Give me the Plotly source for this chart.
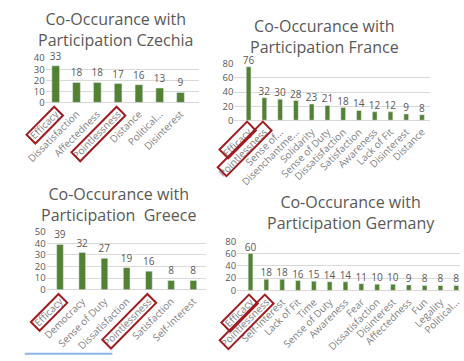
import math
import plotly.graph_objects as go

W, H = 464, 361

# ---- data ----
cz_cats = ["Efficacy", "Dissatisfaction", "Affectedness", "Pointlessness", "Distance", "Political...", "Disinterest"]
cz_vals = [33, 18, 18, 17, 16, 13, 9]

fr_cats = ["Efficacy", "Pointlessness", "Sense of...", "Disenchantme...", "Solidarity", "Sense of Duty",
           "Dissatisfaction", "Satisfaction", "Awareness", "Lack of Fit", "Disinterest", "Distance"]
fr_vals = [76, 32, 30, 28, 23, 21, 18, 14, 12, 12, 9, 8]

gr_cats = ["Efficacy", "Democracy", "Sense of Duty", "Dissatisfaction", "Pointlessness", "Satisfaction", "Self-Interest"]
gr_vals = [39, 32, 27, 19, 16, 8, 8]

de_cats = ["Efficacy", "Pointlessness", "Self-Interest", "Lack of Fit", "Time", "Sense of Duty", "Awareness",
           "Fear", "Dissatisfaction", "Disinterest", "Affectedness", "Fun", "Legality", "Political..."]
de_vals = [60, 18, 18, 16, 15, 14, 14, 11, 10, 10, 9, 8, 8, 8]

titles = ["Co-Occurance with<br>Participation Czechia",
          "Co-Occurance with<br>Participation France",
          "Co-Occurance with<br>Participation  Greece",
          "Co-Occurance with<br>Participation Germany"]
y_max = [40, 80, 50, 80]
y_dtick = [10, 20, 10, 20]
boxed = ["Efficacy", "Pointlessness"]

# ---- layout geometry (pixels) ----
geo = [
    dict(xl=27, xr=188, c0=37.5, cN=168.5, y0=99, yt=53, tx=100, ty=23.5, bw=0.37, by=9),
    dict(xl=225, xr=430, c0=240, cN=422, y0=117.5, yt=59, tx=320, ty=30.5, bw=0.3, by=6),
    dict(xl=28, xr=195, c0=42, cN=182, y0=293.3, yt=233, tx=103, ty=205, bw=0.3, by=9),
    dict(xl=228, xr=462, c0=242, cN=458, y0=294, yt=243, tx=347, ty=213, bw=0.3, by=9),
]
box_len = {"Efficacy": 41, "Pointlessness": 67}
BOX_T = 13

GREEN = "#548235"
TXT = "#595959"
TICK = "#7f7f7f"
GRID = "#d9d9d9"
RED = "#a01c20"
FONT = "Open Sans"


def px(x, y):
    return x / W, 1 - y / H


def box_path(ex, ey, length, t):
    # rectangle along the -45 degree label direction; (ex, ey) is the centre of its upper end
    u = (-1 / math.sqrt(2), 1 / math.sqrt(2))
    v = (1 / math.sqrt(2), 1 / math.sqrt(2))
    pts = [
        (ex - v[0] * t / 2, ey - v[1] * t / 2),
        (ex + v[0] * t / 2, ey + v[1] * t / 2),
        (ex + u[0] * length + v[0] * t / 2, ey + u[1] * length + v[1] * t / 2),
        (ex + u[0] * length - v[0] * t / 2, ey + u[1] * length - v[1] * t / 2),
    ]
    p = [px(a, b) for a, b in pts]
    return "M " + " L ".join(f"{a:.5f},{b:.5f}" for a, b in p) + " Z"


fig = go.Figure()
series = [(cz_cats, cz_vals), (fr_cats, fr_vals), (gr_cats, gr_vals), (de_cats, de_vals)]
annotations = []
shapes = []
for i, ((cats, vals), g) in enumerate(zip(series, geo)):
    k = "" if i == 0 else str(i + 1)
    n = len(cats)
    s = (g["cN"] - g["c0"]) / (n - 1)
    lo = -(g["c0"] - g["xl"]) / s
    hi = (n - 1) + (g["xr"] - g["cN"]) / s
    fig.add_trace(go.Bar(
        x=cats, y=vals, marker_color=GREEN, width=g["bw"],
        text=vals, textposition="outside", cliponaxis=False, constraintext="none",
        textfont=dict(family=FONT, size=10, color=TXT),
        xaxis="x" + k, yaxis="y" + k, showlegend=False, hoverinfo="x+y",
    ))
    fig.layout["xaxis" + k] = dict(
        domain=[g["xl"] / W, g["xr"] / W], anchor="y" + k, type="category",
        range=[lo, hi], tickangle=-45,
        tickfont=dict(family=FONT, size=10, color=TICK), ticklabelstandoff=3,
        showgrid=False, showline=False, ticks="", fixedrange=True,
    )
    fig.layout["yaxis" + k] = dict(
        domain=[(H - g["y0"]) / H, (H - g["yt"]) / H], anchor="x" + k,
        range=[0, y_max[i]], dtick=y_dtick[i], gridcolor=GRID, gridwidth=1,
        zeroline=True, zerolinecolor=GRID, zerolinewidth=1,
        tickfont=dict(family=FONT, size=9.5, color=TXT), ticks="", showline=False,
        fixedrange=True,
    )
    annotations.append(dict(
        text=titles[i], x=g["tx"] / W, y=(H - g["ty"]) / H, xref="paper", yref="paper",
        xanchor="center", yanchor="middle", showarrow=False,
        font=dict(family=FONT, size=16, color=TXT),
    ))
    # red highlight boxes around selected category labels
    for j, c in enumerate(cats):
        if c in boxed:
            cx = g["c0"] + j * s
            shapes.append(dict(
                type="path", xref="paper", yref="paper",
                path=box_path(cx + 3, g["y0"] + g["by"], box_len[c], BOX_T),
                line=dict(color=RED, width=2), fillcolor="rgba(0,0,0,0)",
            ))

shapes.append(dict(type="line", xref="paper", yref="paper", x0=5 / W, x1=97 / W,
                   y0=1.2 / H, y1=1.2 / H, line=dict(color="#8db8e8", width=2)))

fig.update_layout(
    width=W, height=H, margin=dict(l=0, r=0, t=0, b=0),
    paper_bgcolor="white", plot_bgcolor="white",
    annotations=annotations, shapes=shapes,
)

fig.write_html("out.html")
